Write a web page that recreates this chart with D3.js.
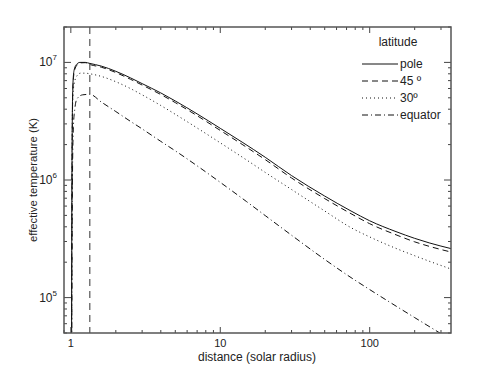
<!DOCTYPE html>
<html>
<head>
<meta charset="utf-8">
<script src="https://cdn.jsdelivr.net/npm/d3@7"></script>
<style>
  body { margin: 0; background: #fff; }
  text { font-family: "Liberation Sans", Arial, sans-serif; fill: #222; }
</style>
</head>
<body>
<svg id="chart" width="498" height="375"></svg>
<script>
// distance in solar radii, temperature in K
let pole=[[1.01,2e4],[1.016,8e5],[1.022,3e6],[1.03,6e6],[1.05,8.5e6],[1.09,9.6e6],[1.15,1.0e7],[1.25,1.0e7],[1.34,9.8e6],[1.6,9.3e6],[2,8.4e6],[2.5,7.4e6],[3,6.6e6],[4,5.5e6],[5,4.7e6],[7,3.65e6],[10,2.75e6],[14,2.1e6],[20,1.56e6],[30,1.09e6],[50,7.3e5],[75,5.45e5],[100,4.5e5],[150,3.64e5],[200,3.19e5],[250,2.92e5],[350,2.61e5]];
let lat45=[[1.01,2e4],[1.018,8e5],[1.024,3e6],[1.032,6e6],[1.055,8.4e6],[1.1,9.5e6],[1.15,9.9e6],[1.25,9.95e6],[1.34,9.6e6],[1.6,9.1e6],[2,8.2e6],[2.5,7.2e6],[3,6.42e6],[4,5.33e6],[5,4.55e6],[7,3.52e6],[10,2.64e6],[14,2.01e6],[20,1.49e6],[30,1.04e6],[50,6.95e5],[75,5.17e5],[100,4.25e5],[150,3.42e5],[200,2.98e5],[250,2.73e5],[350,2.44e5]];
let lat30=[[1.012,2e4],[1.018,1.5e6],[1.025,4e6],[1.05,6.5e6],[1.1,7.7e6],[1.16,8.1e6],[1.25,8.1e6],[1.34,8.0e6],[1.6,7.6e6],[2,6.85e6],[2.5,6.0e6],[3,5.3e6],[4,4.3e6],[5,3.62e6],[7,2.77e6],[10,2.07e6],[15,1.48e6],[20,1.16e6],[30,8.3e5],[50,5.45e5],[75,3.93e5],[100,3.28e5],[150,2.62e5],[200,2.27e5],[250,2.04e5],[350,1.75e5]];
let equator=[[1.012,2e4],[1.025,1e6],[1.04,2.8e6],[1.06,3.9e6],[1.1,4.9e6],[1.2,5.3e6],[1.34,5.35e6],[1.6,4.6e6],[2,3.82e6],[2.5,3.16e6],[3,2.72e6],[4,2.13e6],[5,1.77e6],[7,1.32e6],[10,9.55e5],[15,6.55e5],[20,4.98e5],[30,3.39e5],[50,2.11e5],[75,1.48e5],[100,1.17e5],[150,8.47e4],[200,6.76e4],[270,5.35e4],[350,4.38e4]];

let seriesNames=["pole","45 º","30º","equator"];
let seriesData=[pole,lat45,lat30,equator];
let seriesDash=["none","6,4","1,3","6,3,1,3"];

let xTicksMajor=[1,10,100];
let yTicksMajor=[1e5,1e6,1e7];
let markerX=1.34;

let svg=d3.select("#chart");
let margin={top:27,right:47,bottom:42,left:64},
  width=498-margin.left-margin.right,
  height=375-margin.top-margin.bottom;

let xScale=d3.scaleLog().domain([0.9,350]).range([margin.left,margin.left+width]);
let yScale=d3.scaleLog().domain([5e4,2e7]).range([margin.top+height,margin.top]);

svg.append("clipPath").attr("id","clip")
  .append("rect")
  .attr("x",margin.left).attr("y",margin.top)
  .attr("width",width).attr("height",height);

let plot=svg.append("g").attr("clip-path","url(#clip)");

// vertical marker
plot.append("line")
  .attr("x1",xScale(markerX)).attr("x2",xScale(markerX))
  .attr("y1",margin.top).attr("y2",margin.top+height)
  .attr("stroke","#333").attr("stroke-width",1)
  .attr("stroke-dasharray","7,5");

let line=d3.line()
  .x(function(d){return xScale(d[0])})
  .y(function(d){return yScale(d[1])})
  .curve(d3.curveMonotoneX);

plot.selectAll(".series")
  .data(seriesData)
  .enter().append("path")
  .attr("fill","none")
  .attr("stroke","#111")
  .attr("stroke-width",1)
  .attr("stroke-dasharray",function(d,i){return seriesDash[i]})
  .attr("d",line);

// ticks
let xMinor=xScale.ticks().filter(function(t){return t>=0.9&&t<=350});
let yMinor=yScale.ticks();

function xAxisTicks(g,dir){
  g.selectAll("line")
    .data(xMinor)
    .enter().append("line")
    .attr("x1",function(d){return xScale(d)}).attr("x2",function(d){return xScale(d)})
    .attr("y1",0)
    .attr("y2",function(d){return dir*(xTicksMajor.indexOf(d)>=0?6:3)})
    .attr("stroke","#444");
}
function yAxisTicks(g,dir){
  g.selectAll("line")
    .data(yMinor)
    .enter().append("line")
    .attr("y1",function(d){return yScale(d)}).attr("y2",function(d){return yScale(d)})
    .attr("x1",0)
    .attr("x2",function(d){return dir*(yTicksMajor.indexOf(d)>=0?7:3)})
    .attr("stroke","#444");
}

svg.append("g").attr("transform","translate(0,"+(margin.top+height)+")").call(xAxisTicks,-1);
svg.append("g").attr("transform","translate(0,"+margin.top+")").call(xAxisTicks,1);
svg.append("g").attr("transform","translate("+margin.left+",0)").call(yAxisTicks,1);
svg.append("g").attr("transform","translate("+(margin.left+width)+",0)").call(yAxisTicks,-1);

// frame
svg.append("rect")
  .attr("x",margin.left).attr("y",margin.top)
  .attr("width",width).attr("height",height)
  .attr("fill","none").attr("stroke","#555").attr("stroke-width",1.5);

// tick labels
svg.append("g").selectAll("text")
  .data(xTicksMajor)
  .enter().append("text")
  .attr("x",function(d){return xScale(d)})
  .attr("y",margin.top+height+14)
  .attr("text-anchor","middle")
  .attr("font-size",11)
  .text(function(d){return d});

let ylab=svg.append("g").selectAll("text")
  .data(yTicksMajor)
  .enter().append("text")
  .attr("x",margin.left-7)
  .attr("y",function(d){return yScale(d)+4})
  .attr("text-anchor","end")
  .attr("font-size",12);
ylab.append("tspan").text("10");
ylab.append("tspan").attr("dy",-6).attr("font-size",8)
  .text(function(d){return Math.round(Math.log10(d))});

// axis titles
svg.append("text")
  .attr("x",257)
  .attr("y",361)
  .attr("text-anchor","middle")
  .attr("font-size",12)
  .text("distance (solar radius)");

svg.append("text")
  .attr("transform","translate(37,180) rotate(-90)")
  .attr("text-anchor","middle")
  .attr("font-size",11.3)
  .text("effective temperature (K)");

// legend
svg.append("text")
  .attr("x",398).attr("y",46)
  .attr("text-anchor","middle")
  .attr("font-size",12)
  .text("latitude");

let legend=svg.append("g").selectAll("g")
  .data(seriesNames)
  .enter().append("g")
  .attr("transform",function(d,i){return "translate(362,"+(64+i*17)+")"});

legend.append("line")
  .attr("x1",0).attr("x2",36)
  .attr("stroke","#111")
  .attr("stroke-dasharray",function(d,i){return seriesDash[i]});

legend.append("text")
  .attr("x",38).attr("y",4)
  .attr("font-size",12)
  .text(function(d){return d});
</script>
</body>
</html>
